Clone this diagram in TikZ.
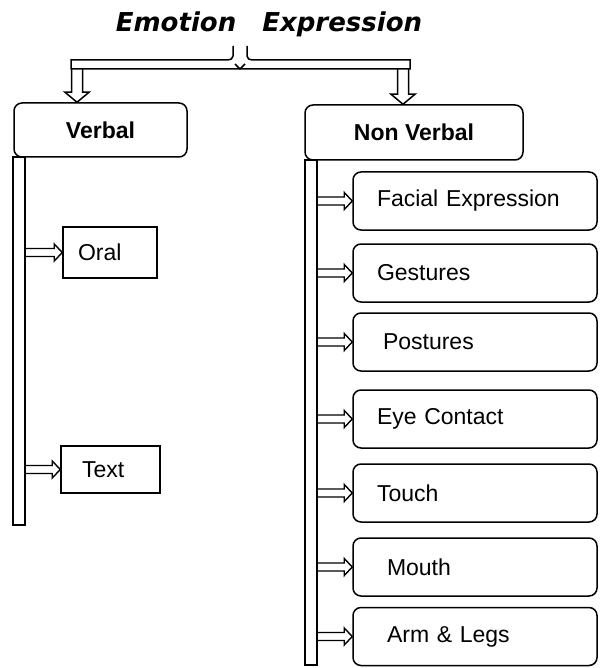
\documentclass[tikz,border=0pt]{standalone}
\usepackage{fontspec}
\setmainfont{Liberation Sans}
\newfontfamily\titlefont{DejaVu Sans}
\usetikzlibrary{calc,positioning}

\tikzset{
	box/.style={draw, line width=1.5pt, inner sep=0pt, font=\fontsize{23}{27}\selectfont},
	head/.style={box, rounded corners=8pt, font=\fontsize{23}{27}\selectfont\bfseries},
	item/.style={box, rounded corners=8pt, minimum height=58pt, text width=196pt, inner xsep=24pt, align=left},
	leaf/.style={box, align=left},
	rail/.style={draw, line width=1.5pt},
	% open block arrows, going down and going right
	bigarr/.style={line width=1.5pt, to path={($(\tikztostart)+(-5.5,0)$) -- ($(\tikztotarget)+(-5.5,-10)$) -- ($(\tikztotarget)+(-12,-10)$) -- (\tikztotarget) -- ($(\tikztotarget)+(12,-10)$) -- ($(\tikztotarget)+(5.5,-10)$) -- ($(\tikztostart)+(5.5,0)$)}},
	subarr/.style={line width=1.4pt, to path={($(\tikztostart)+(0,-4)$) -- ($(\tikztotarget)+(-8,-4)$) -- ($(\tikztotarget)+(-8,-8.5)$) -- (\tikztotarget) -- ($(\tikztotarget)+(-8,8.5)$) -- ($(\tikztotarget)+(-8,4)$) -- ($(\tikztostart)+(0,4)$)}},
}

\begin{document}
\begin{tikzpicture}[x=1pt,y=-1pt]
\useasboundingbox (0,0) rectangle (599,668);
\node[anchor=base, font=\titlefont\fontsize{26}{30}\selectfont\bfseries\itshape] (title) at (269,32) {Emotion\quad Expression};
% top bar
\draw[line width=1.5pt] (233,46) -- (233,56) to[out=-90,in=0] (228,60) -- (71,60) -- (71,69) -- (410,69) -- (410,60) -- (252,60) to[out=180,in=-90] (247,56) -- (247,46)
	(235,64) -- (240,69) -- (245,64);
\coordinate (barL) at (77,69);
\coordinate (barR) at (403,69);
% heads
\node[head, minimum width=173pt, minimum height=54pt] (verbal) at (100.5,130) {Verbal};
\node[head, minimum width=218pt, minimum height=55pt] (nonverbal) at (414,132.5) {Non Verbal};
\draw[bigarr] (barL) to (barL |- verbal.north);
\draw[bigarr] (barR) to (barR |- nonverbal.north);
% rails
\draw[rail] (13,157) rectangle (25,525) coordinate (railL);
\draw[rail] (305,160) rectangle (317,665) coordinate (railR);
% verbal
\node[leaf, minimum height=51pt, text width=64pt, inner xsep=15pt] (oral) at (110,252.5) {Oral};
\node[leaf, minimum height=47pt, text width=57pt, inner xsep=21pt] (text) at (110.5,469.5) {Text};
\draw[subarr] (oral.west -| railL) to (oral.west);
\draw[subarr] (text.west -| railL) to (text.west);
% non verbal
\node[item] (facial) at (475,201) {Facial Expression};
\node[item] (gestures) at (475,273) {Gestures};
\node[item] (postures) at (475,342) {\hspace{6pt}Postures};
\node[item] (eye) at (475,419) {Eye Contact};
\node[item] (touch) at (475,493) {Touch};
\node[item] (mouth) at (475,567) {\hspace{10pt}Mouth};
\node[item] (arm) at (475,636.5) {\hspace{10pt}Arm \& Legs};
\draw[subarr] (facial.west -| railR) to (facial.west);
\draw[subarr] (gestures.west -| railR) to (gestures.west);
\draw[subarr] (postures.west -| railR) to (postures.west);
\draw[subarr] (eye.west -| railR) to (eye.west);
\draw[subarr] (touch.west -| railR) to (touch.west);
\draw[subarr] (mouth.west -| railR) to (mouth.west);
\draw[subarr] (arm.west -| railR) to (arm.west);
\end{tikzpicture}
\end{document}
